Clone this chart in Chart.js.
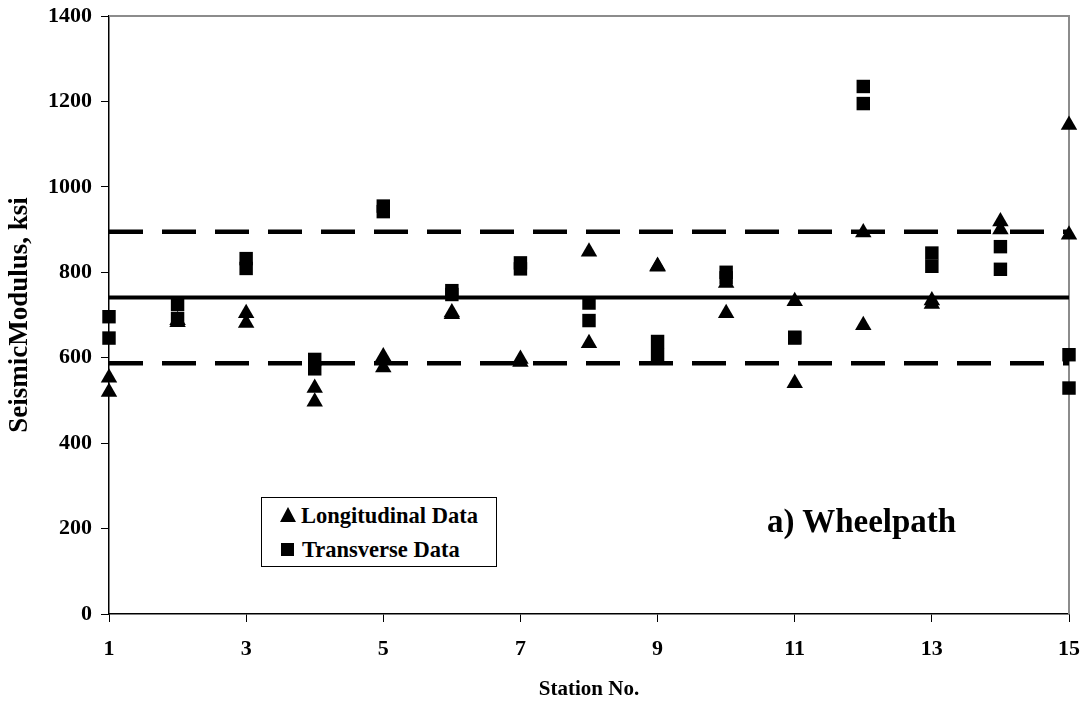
<!DOCTYPE html>
<html>
<head>
<meta charset="utf-8">
<script src="https://cdn.jsdelivr.net/npm/chart.js@4.4.1/dist/chart.umd.min.js"></script>
<style>
  html, body { margin: 0; padding: 0; background: #fff; }
  #wrap { position: relative; width: 1086px; height: 705px; }
  #c { position: absolute; left: 0; top: 0; }
  .serif { font-family: "Liberation Serif", "Times New Roman", serif; font-weight: bold; color: #000; }
  #legend { position: absolute; left: 261px; top: 497px; width: 234px; height: 68px; border: 1px solid #000; background: #fff; box-sizing: content-box; }
  .row { position: absolute; left: 18px; font-size: 22.5px; line-height: 24px; white-space: nowrap; }
  .tri { display: inline-block; width: 0; height: 0; border-left: 8px solid transparent; border-right: 8px solid transparent; border-bottom: 15px solid #000; margin-right: 5px; vertical-align: 1px; }
  .sq { display: inline-block; width: 13px; height: 13px; background: #000; margin-right: 8px; vertical-align: 1px; margin-left: 1px; }
  #note { position: absolute; left: 767px; top: 503px; font-size: 33px; line-height: 36px; white-space: nowrap; }
</style>
</head>
<body>
<div id="wrap">
  <canvas id="c" width="1086" height="705"></canvas>
  <div id="legend" class="serif">
    <div class="row" style="top:6px;"><span class="tri"></span>Longitudinal Data</div>
    <div class="row" style="top:40px;"><span class="sq"></span>Transverse Data</div>
  </div>
  <div id="note" class="serif">a) Wheelpath</div>
</div>
<script>
// Stations
const stations = [1, 2, 3, 4, 5, 6, 7, 8, 9, 10, 11, 12, 13, 14, 15];
// Longitudinal data (two readings per station), ksi
const longitudinalA = [553, 688, 704, 529, 603, 706, 597, 848, 815, 775, 732, 893, 734, 919, 1145];
const longitudinalB = [520, 683, 681, 497, 577, 702, 590, 634, 813, 704, 540, 676, 726, 900, 888];
// Transverse data (two readings per station), ksi
const transverseA = [696, 725, 832, 596, 955, 757, 822, 728, 638, 800, 648, 1235, 845, 860, 607];
const transverseB = [646, 692, 809, 574, 942, 748, 808, 687, 607, 787, 646, 1195, 814, 807, 529];
// Reference lines (mean and bounds), ksi
const meanValue = 741;
const upperBound = 895;
const lowerBound = 587;
// Tick labels
const xTickValues = [1, 3, 5, 7, 9, 11, 13, 15];
const yTickValues = [0, 200, 400, 600, 800, 1000, 1200, 1400];

const pts = (ys) => stations.map((s, i) => ({ x: s, y: ys[i] }));
const longPts = pts(longitudinalA).concat(pts(longitudinalB));
const transPts = pts(transverseA).concat(pts(transverseB));
const hLine = (v) => [{ x: stations[0], y: v }, { x: stations[stations.length - 1], y: v }];

const FONT = "'Liberation Serif', 'Times New Roman', serif";

const frame = {
  id: 'frame',
  beforeDatasetsDraw(chart) {
    const a = chart.chartArea, ctx = chart.ctx;
    ctx.save();
    ctx.strokeStyle = '#8c8c8c';
    ctx.lineWidth = 2;
    ctx.beginPath();
    ctx.moveTo(a.left, a.top);
    ctx.lineTo(a.right, a.top);
    ctx.lineTo(a.right, a.bottom);
    ctx.stroke();
    ctx.restore();
  }
};

new Chart(document.getElementById('c'), {
  type: 'scatter',
  data: {
    datasets: [
      { label: 'Mean', type: 'line', data: hLine(meanValue), borderColor: '#000', borderWidth: 4, pointRadius: 0, fill: false, order: 3 },
      { label: 'Upper', type: 'line', data: hLine(upperBound), borderColor: '#000', borderWidth: 4.5, borderDash: [34, 19], borderCapStyle: 'butt', pointRadius: 0, fill: false, order: 3 },
      { label: 'Lower', type: 'line', data: hLine(lowerBound), borderColor: '#000', borderWidth: 4.5, borderDash: [34, 19], borderCapStyle: 'butt', pointRadius: 0, fill: false, order: 3 },
      { label: 'Longitudinal Data', data: longPts, pointStyle: 'triangle', pointRadius: 9.5, pointHoverRadius: 9.5, backgroundColor: '#000', borderColor: '#000', borderWidth: 0, order: 1 },
      { label: 'Transverse Data', data: transPts, pointStyle: 'rect', pointRadius: 9.5, pointHoverRadius: 9.5, backgroundColor: '#000', borderColor: '#000', borderWidth: 0, order: 2 }
    ]
  },
  options: {
    responsive: false,
    animation: false,
    clip: false,
    layout: { padding: { left: 0, right: 17, top: 16, bottom: 0 } },
    plugins: { legend: { display: false }, tooltip: { enabled: false } },
    scales: {
      x: {
        type: 'linear', min: 1, max: 15,
        afterBuildTicks: (s) => { s.ticks = xTickValues.map(v => ({ value: v })); },
        afterFit: (s) => { s.height = 91; s.paddingLeft = 0; s.paddingRight = 0; },
        grid: { display: true, drawOnChartArea: false, drawTicks: true, tickLength: 8, color: '#000', lineWidth: 1 },
        border: { display: true, color: '#000', width: 1.5 },
        ticks: { color: '#000', font: { family: FONT, size: 22, weight: 'bold' }, padding: 14, maxRotation: 0, callback: (v) => String(v) },
        title: { display: true, text: 'Station No.', color: '#000', font: { family: FONT, size: 21, weight: 'bold' }, padding: { top: 4, bottom: 3 } }
      },
      y: {
        type: 'linear', min: 0, max: 1400,
        afterBuildTicks: (s) => { s.ticks = yTickValues.map(v => ({ value: v })); },
        afterFit: (s) => { s.width = 109; s.paddingTop = 0; s.paddingBottom = 0; },
        grid: { display: true, drawOnChartArea: false, drawTicks: true, tickLength: 8, color: '#000', lineWidth: 1 },
        border: { display: true, color: '#000', width: 1.5 },
        ticks: { color: '#000', font: { family: FONT, size: 22, weight: 'bold' }, padding: 9, callback: (v) => String(v) },
        title: { display: true, text: 'SeismicModulus, ksi', color: '#000', font: { family: FONT, size: 27, weight: 'bold' }, padding: { top: 4, bottom: 0 } }
      }
    }
  },
  plugins: [frame]
});
</script>
</body>
</html>
